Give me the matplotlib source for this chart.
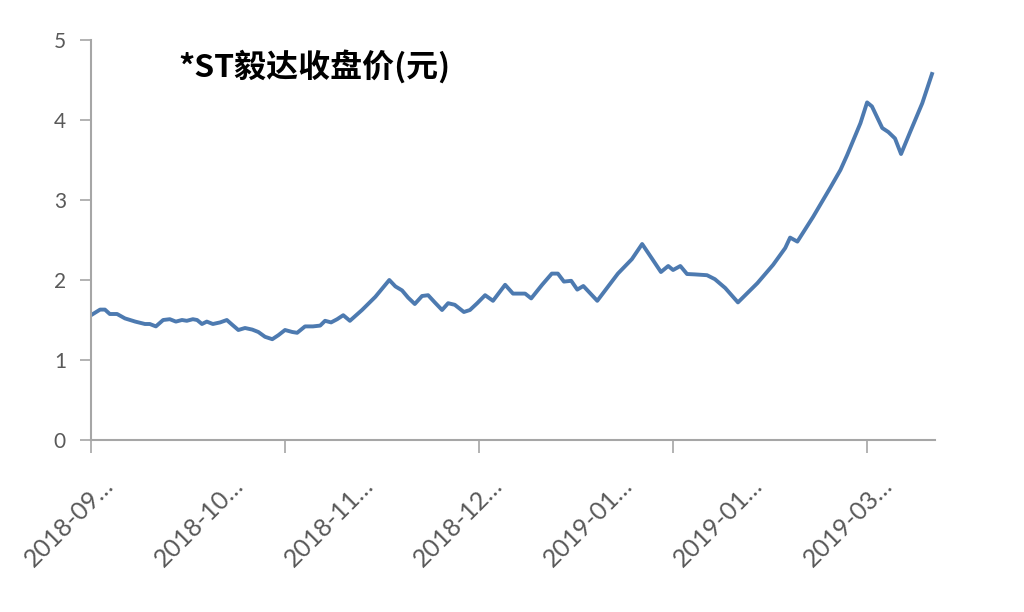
# *ST毅达 closing price line chart

import matplotlib.pyplot as plt

plt.rcParams['font.family'] = ['Lato', 'DejaVu Sans']

# trading-day position and closing price
day = [0, 1.5, 2.3, 3.1, 4.3, 5.6, 7.3, 8.9, 9.7, 10.7, 11.9, 13.0, 14.0, 15.0,
       15.8, 16.8, 17.5, 18.3, 19.1, 20.1, 21.3, 22.4, 23.3, 24.3, 25.4, 26.6,
       27.6, 28.7, 29.9, 30.9, 32.0, 33.2, 34.0, 35.3, 36.6, 37.8, 38.6, 39.6,
       40.6, 41.6, 42.7, 44.7, 46.9, 49.2, 50.2, 51.3, 52.3, 53.4, 54.6, 55.6,
       56.7, 57.9, 58.9, 60.0, 61.5, 62.5, 63.7, 65.0, 66.3, 68.3, 69.6, 71.6,
       72.6, 74.4, 76.0, 77.0, 78.0, 79.2, 80.2, 81.2, 83.5, 86.9, 89.2, 90.9,
       92.5, 94.0, 95.2, 96.0, 97.2, 98.3, 99.6, 101.6, 102.9, 104.6, 106.7,
       109.9, 112.5, 114.5, 115.3, 116.5, 119.1, 121.9, 123.6, 124.7, 126.9,
       128.0, 128.8, 130.5, 131.5, 132.6, 133.6, 135.1, 137.1, 138.7]
price = [1.56, 1.63, 1.63, 1.575, 1.575, 1.52, 1.48, 1.45, 1.45, 1.42, 1.50, 1.51,
         1.48, 1.50, 1.49, 1.51, 1.50, 1.45, 1.48, 1.45, 1.47, 1.50, 1.44, 1.375,
         1.40, 1.38, 1.35, 1.29, 1.26, 1.31, 1.375, 1.35, 1.34, 1.42, 1.42, 1.43,
         1.49, 1.47, 1.51, 1.56, 1.49, 1.625, 1.79, 2.00, 1.92, 1.87, 1.78, 1.70,
         1.80, 1.81, 1.72, 1.625, 1.71, 1.69, 1.60, 1.625, 1.71, 1.81, 1.74, 1.94,
         1.83, 1.83, 1.77, 1.94, 2.08, 2.08, 1.98, 1.99, 1.88, 1.925, 1.74, 2.08,
         2.26, 2.45, 2.27, 2.10, 2.175, 2.125, 2.175, 2.075, 2.07, 2.06, 2.01,
         1.90, 1.72, 1.96, 2.19, 2.40, 2.53, 2.48, 2.79, 3.15, 3.375, 3.56, 3.96,
         4.22, 4.17, 3.90, 3.85, 3.77, 3.575, 3.85, 4.21, 4.575]

date_labels = ['2018-09…', '2018-10…', '2018-11…', '2018-12…',
               '2019-01…', '2019-01…', '2019-03…']
yticks = [0, 1, 2, 3, 4, 5]

fig = plt.figure(figsize=(10.24, 6.12), dpi=100)
ax = fig.add_axes([91/1024, 1-440/612, 844/1024, 400/612])

ax.plot(day, price, color='#4d7ab0', linewidth=2.8, solid_joinstyle='round')

ax.set_xlim(0, 139.2)
ax.set_ylim(0, 5)
ax.set_yticks(yticks)

# tick marks every 32 days, labels every ~21.4 days
ax.set_xticks([0, 32, 64, 96, 128])
ax.set_xticklabels([])
ax.set_xticks([3.1 + 21.4*i for i in range(len(date_labels))], minor=True)
ax.set_xticklabels(date_labels, minor=True, rotation=45, ha='right',
                   rotation_mode='anchor', va='center', fontsize=18, color='#595959')
ax.tick_params(axis='x', which='minor', length=0, pad=30)
ax.tick_params(axis='x', which='major', length=9, width=1.2, color='#a6a6a6')
ax.tick_params(axis='y', length=8, width=1.2, color='#a6a6a6', pad=10,
               labelsize=15, labelcolor='#595959')

for s in ['top', 'right']:
    ax.spines[s].set_visible(False)
for s in ['left', 'bottom']:
    ax.spines[s].set_color('#a6a6a6')
    ax.spines[s].set_linewidth(1.5)

fig.text(178/1024, 1-67/612, '*ST毅达收盘价(元)', fontsize=23, fontweight='bold',
         va='center', ha='left', family=['Noto Sans CJK SC', 'DejaVu Sans'])

fig.savefig('out.png', dpi=100)
